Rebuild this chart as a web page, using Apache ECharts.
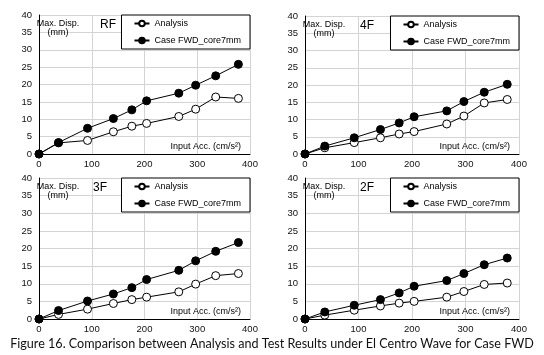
<!DOCTYPE html>
<html>
<head>
<meta charset="utf-8">
<script src="https://cdn.jsdelivr.net/npm/echarts@6/dist/echarts.min.js"></script>
<style>
  html, body { margin: 0; padding: 0; background: #fff; }
  #chart { width: 544px; height: 355px; }
</style>
</head>
<body>
<div id="chart"></div>
<script>
// input acceleration (cm/s2), same for every floor
var inputAcc = [0, 37, 92, 141, 176, 204, 265, 297, 335, 378];
var floors = ['RF', '4F', '3F', '2F'];
// max displacement (mm)
var analysisRF = [0, 3.2, 3.9, 6.4, 8.0, 8.8, 10.8, 12.9, 16.4, 16.0];
var caseRF     = [0, 3.3, 7.4, 10.2, 12.7, 15.3, 17.5, 19.8, 22.5, 25.8];
var analysis4F = [0, 1.8, 3.3, 4.7, 5.8, 6.5, 8.7, 11.0, 14.8, 15.8];
var case4F     = [0, 2.3, 4.7, 7.1, 9.0, 10.8, 12.5, 15.2, 17.9, 20.2];
var analysis3F = [0, 1.3, 2.8, 4.4, 5.5, 6.2, 7.7, 9.9, 12.3, 12.9];
var case3F     = [0, 2.4, 5.1, 7.1, 8.9, 11.2, 13.8, 16.5, 19.2, 21.7];
var analysis2F = [0, 1.1, 2.5, 3.7, 4.5, 5.0, 6.2, 7.8, 9.8, 10.2];
var case2F     = [0, 2.0, 3.9, 5.5, 7.4, 9.3, 10.9, 12.9, 15.4, 17.3];
var seriesNames = ['Analysis', 'Case FWD_core7mm'];
var yTitle = ['Max. Disp.', '(mm)'];
var xTitle = 'Input Acc. (cm/s²)';
var caption = 'Figure 16. Comparison between Analysis and Test Results under El Centro Wave for Case FWD';

var analysisData = [analysisRF, analysis4F, analysis3F, analysis2F];
var caseData = [caseRF, case4F, case3F, case2F];

var chart = echarts.init(document.getElementById('chart'));

// pixel layout of the four panels
var boxes = [
  { left: 39, top: 15, width: 211, height: 139, floorX: 61 },
  { left: 305, top: 16, width: 214, height: 138, floorX: 55 },
  { left: 39, top: 178, width: 211, height: 141, floorX: 54 },
  { left: 305, top: 178, width: 214, height: 141, floorX: 55 }
];

var font = 'Liberation Sans, Arial, sans-serif';

function pairs(ys) {
  return ys.map(function (y, i) { return [inputAcc[i], y]; });
}

var grids = [], xAxes = [], yAxes = [], series = [], legends = [], texts = [];

boxes.forEach(function (b, k) {
  grids.push({ left: b.left, top: b.top, width: b.width, height: b.height });
  xAxes.push({
    type: 'value', gridIndex: k, min: 0, max: 400, interval: 100,
    axisLine: { show: true, onZero: false, lineStyle: { color: '#000', width: 1 } },
    axisTick: { show: false },
    axisLabel: { color: '#111', fontSize: 9.5, fontFamily: font, margin: 5 },
    splitLine: { show: true, lineStyle: { color: '#d4d4d4', width: 1 } }
  });
  yAxes.push({
    type: 'value', gridIndex: k, min: 0, max: 40, interval: 5,
    axisLine: { show: true, onZero: false, lineStyle: { color: '#000', width: 1 } },
    axisTick: { show: false },
    axisLabel: { color: '#111', fontSize: 9.5, fontFamily: font, margin: 7 },
    splitLine: { show: true, lineStyle: { color: '#d4d4d4', width: 1 } }
  });
  series.push({
    name: seriesNames[0], type: 'line', xAxisIndex: k, yAxisIndex: k,
    data: pairs(analysisData[k]), symbol: 'circle', symbolSize: 8, z: 3,
    lineStyle: { color: '#000', width: 1 },
    itemStyle: { color: '#fff', borderColor: '#000', borderWidth: 1 }
  });
  series.push({
    name: seriesNames[1], type: 'line', xAxisIndex: k, yAxisIndex: k,
    data: pairs(caseData[k]), symbol: 'circle', symbolSize: 8, z: 4,
    lineStyle: { color: '#000', width: 1 },
    itemStyle: { color: '#000', borderColor: '#000', borderWidth: 1 }
  });
  legends.push({
    data: seriesNames, orient: 'vertical',
    right: 544 - b.left - b.width, top: b.top,
    itemWidth: 15, itemHeight: 7, itemGap: 8,
    padding: [4, 9, 4, 12],
    borderColor: '#000', borderWidth: 1, backgroundColor: '#fff',
    textStyle: { fontSize: 9, color: '#000', fontFamily: font }
  });
  texts.push({
    type: 'text', x: b.left + b.floorX, y: b.top + 10, z: 10,
    style: { text: floors[k], font: '12px ' + font, fill: '#000', textVerticalAlign: 'middle' }
  });
  texts.push({
    type: 'text', x: b.left + 19, y: b.top + 9, z: 10,
    style: { text: yTitle[0], font: '9px ' + font, fill: '#000', textAlign: 'center', textVerticalAlign: 'middle' }
  });
  texts.push({
    type: 'text', x: b.left + 19, y: b.top + 18, z: 10,
    style: { text: yTitle[1], font: '9px ' + font, fill: '#000', textAlign: 'center', textVerticalAlign: 'middle' }
  });
  texts.push({
    type: 'text', x: b.left + b.width - 9, y: b.top + b.height - 7, z: 10,
    style: { text: xTitle, font: '9px ' + font, fill: '#000', textAlign: 'right', textVerticalAlign: 'middle' }
  });
});

texts.push({
  type: 'text', x: 272, y: 344, z: 10,
  style: { text: caption, font: '12.6px Lato, "Open Sans", sans-serif', fill: '#111', textAlign: 'center', textVerticalAlign: 'middle' }
});

chart.setOption({
  animation: false,
  legend: legends,
  grid: grids,
  xAxis: xAxes,
  yAxis: yAxes,
  series: series,
  graphic: texts
});
</script>
</body>
</html>
